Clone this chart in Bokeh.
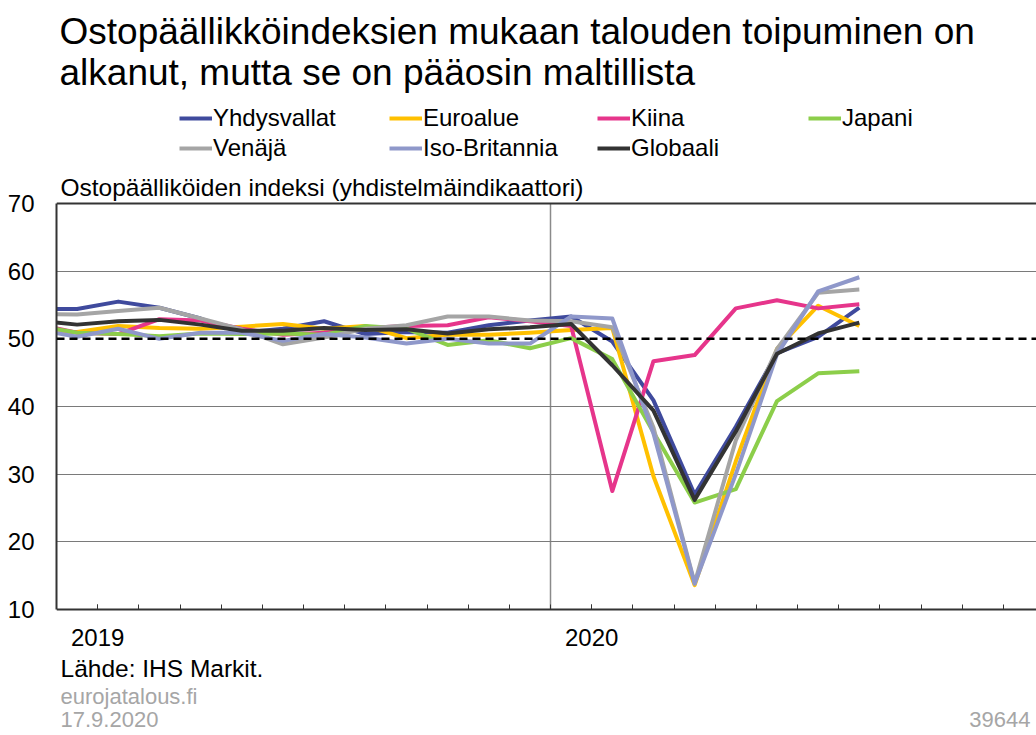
from bokeh.plotting import figure
from bokeh.models import (Range1d, FixedTicker, Span, Label, Legend, LegendItem)
from bokeh.embed import file_html
from bokeh.resources import INLINE

# ---- data (composite PMI, monthly, Dec 2018 .. Aug 2020) ----
months = ["2018-12", "2019-01", "2019-02", "2019-03", "2019-04", "2019-05", "2019-06",
          "2019-07", "2019-08", "2019-09", "2019-10", "2019-11", "2019-12",
          "2020-01", "2020-02", "2020-03", "2020-04", "2020-05", "2020-06", "2020-07", "2020-08"]
yhdysvallat = [54.4, 54.4, 55.5, 54.6, 53.0, 50.9, 51.5, 52.6, 50.7, 51.0, 50.9, 52.0, 52.7,
               53.3, 49.6, 40.9, 27.0, 37.0, 47.9, 50.3, 54.6]
euroalue = [51.1, 51.0, 51.9, 51.6, 51.5, 51.8, 52.2, 51.5, 51.9, 50.1, 50.6, 50.6, 50.9,
            51.3, 51.6, 29.7, 13.6, 31.9, 48.5, 54.9, 51.9]
kiina = [52.2, 50.9, 50.7, 52.9, 52.7, 51.5, 50.6, 50.9, 51.6, 51.9, 52.0, 53.2, 52.6,
         51.9, 27.5, 46.7, 47.6, 54.5, 55.7, 54.5, 55.1]
japani = [52.0, 50.9, 50.7, 50.4, 50.8, 50.7, 50.8, 50.6, 51.9, 51.5, 49.1, 49.8, 48.6,
          50.1, 47.0, 36.2, 25.8, 27.8, 40.8, 44.9, 45.2]
venaja = [53.7, 53.6, 54.1, 54.6, 53.0, 51.4, 49.2, 50.2, 51.5, 52.0, 53.3, 53.3, 52.7,
          52.6, 51.7, 36.9, 13.9, 35.0, 48.5, 56.8, 57.3]
iso_britannia = [51.4, 50.3, 51.5, 50.0, 50.9, 50.9, 49.7, 50.7, 50.2, 49.3, 50.0, 49.3, 49.3,
                 53.3, 53.0, 36.0, 13.8, 30.0, 47.7, 57.0, 59.1]
globaali = [52.7, 52.1, 52.6, 52.8, 52.1, 51.2, 51.2, 51.6, 51.3, 51.4, 50.8, 51.4, 51.7,
            52.2, 46.1, 39.4, 26.2, 36.3, 47.8, 50.8, 52.4]

series_names = ["Yhdysvallat", "Euroalue", "Kiina", "Japani", "Venäjä", "Iso-Britannia", "Globaali"]
series_values = [yhdysvallat, euroalue, kiina, japani, venaja, iso_britannia, globaali]
series_colors = ["#3f4a9d", "#ffc000", "#e6358b", "#8cce4a", "#a5a5a5", "#8f98ca", "#333333"]

year_labels = {1: "2019", 13: "2020"}
y_ticks = [10, 20, 30, 40, 50, 60, 70]

FONT = "Liberation Sans"
W, H = 1036, 734
FL = 56                      # frame left (px)
Y_TOP_PX, Y_BOT_PX = 203, 609  # pixel rows of 70 and 10
PPU = (Y_BOT_PX - Y_TOP_PX) / 60.0
y_start = 10 - (H - Y_BOT_PX) / PPU
y_end = 70 + Y_TOP_PX / PPU


def month_pos(i):
    # centre of month; first entry (Dec 2018) lies half a month before 2019 starts
    return i - 0.5


xs = [month_pos(i) for i in range(len(months))]

p = figure(width=W, height=H, output_backend="svg", toolbar_location=None,
           x_range=Range1d(0, (W - FL) / 41.17), y_range=Range1d(y_start, y_end),
           min_border_left=FL, min_border_right=0, min_border_top=0, min_border_bottom=0,
           background_fill_color="white", border_fill_color="white")
p.outline_line_color = None

# horizontal grid
p.ygrid.ticker = FixedTicker(ticks=[20, 30, 40, 60])
p.ygrid.grid_line_color = "#7a7a7a"
p.ygrid.grid_line_width = 1

# vertical year separator at start of 2020
p.xgrid.ticker = FixedTicker(ticks=[12])
p.xgrid.grid_line_color = "#8a8a8a"
p.xgrid.grid_line_width = 1.5
try:
    p.xgrid.cross_bounds = (10, 70)
    sep_done = True
except AttributeError:
    sep_done = False
if not sep_done:
    p.xgrid.visible = False
    p.segment(x0=[12], y0=[10], x1=[12], y1=[70], line_color="#8a8a8a", line_width=1.5)

# y axis
p.yaxis.ticker = FixedTicker(ticks=y_ticks)
p.yaxis.bounds = (10, 70)
p.yaxis.major_tick_in = 0
p.yaxis.major_tick_out = 0
p.yaxis.minor_tick_line_color = None
p.yaxis.axis_line_color = "#333333"
p.yaxis.axis_line_width = 2
p.yaxis.major_label_text_font = FONT
p.yaxis.major_label_text_font_size = "24px"
p.yaxis.major_label_text_color = "black"
p.yaxis.major_label_standoff = 22

# x axis: fixed at y=10, monthly ticks inside, year labels
p.xaxis.fixed_location = 10
p.xaxis.ticker = FixedTicker(ticks=list(year_labels.keys()), minor_ticks=list(range(1, 24)))
p.xaxis.major_label_overrides = {k: v for k, v in year_labels.items()}
p.xaxis.major_tick_in = 5
p.xaxis.major_tick_out = 0
p.xaxis.minor_tick_in = 5
p.xaxis.minor_tick_out = 0
p.xaxis.major_tick_line_color = "#333333"
p.xaxis.minor_tick_line_color = "#333333"
p.xaxis.axis_line_color = "#333333"
p.xaxis.axis_line_width = 2
p.xaxis.major_label_text_font = FONT
p.xaxis.major_label_text_font_size = "24px"
p.xaxis.major_label_text_color = "black"
p.xaxis.major_label_standoff = 19

# reference lines
p.add_layout(Span(location=70, dimension="width", line_color="#333333", line_width=2))
p.add_layout(Span(location=50, dimension="width", line_color="black", line_width=2.5,
                  line_dash="8 5"))

renderers = []
for name, vals, col in zip(series_names, series_values, series_colors):
    r = p.line(xs, vals, line_color=col, line_width=4, line_join="round")
    renderers.append(r)

# legend, one block per entry (pixel position of sample start / row centre)
legend_pos = [(179, 118), (389, 118), (597, 118), (808, 118),
              (179, 148), (389, 148), (597, 148)]
LH = 28
for name, r, (px, py) in zip(series_names, renderers, legend_pos):
    vy = H - (py + LH / 2)
    vx = px - FL
    lg = Legend(items=[LegendItem(label=name, renderers=[r])], location=(vx, vy),
                orientation="horizontal", padding=0, margin=0, spacing=0,
                glyph_width=33, glyph_height=LH, label_height=LH, label_standoff=1,
                label_text_font=FONT, label_text_font_size="24px", label_text_color="black",
                border_line_color=None, background_fill_alpha=0)
    p.add_layout(lg, "center")


def lab(text, px, py, size, color="black", align="left"):
    return Label(x=px - FL, y=H - py, x_units="screen", y_units="screen",
                 text=text, text_font=FONT, text_font_size=size, text_color=color,
                 text_align=align, text_baseline="middle")


p.add_layout(lab("Ostopäällikköindeksien mukaan talouden toipuminen on", 59, 31, "37px"))
p.add_layout(lab("alkanut, mutta se on pääosin maltillista", 59, 72, "37px"))
p.add_layout(lab("Ostopäälliköiden indeksi (yhdistelmäindikaattori)", 60, 187, "24.5px"))
p.add_layout(lab("Lähde: IHS Markit.", 60, 668, "24.5px"))
p.add_layout(lab("eurojatalous.fi", 60, 696, "22px", "#a6a6a6"))
p.add_layout(lab("17.9.2020", 60, 719, "22px", "#a6a6a6"))
p.add_layout(lab("39644", 1030, 719, "22px", "#a6a6a6", align="right"))

open("out.html", "w").write(file_html(p, INLINE))
